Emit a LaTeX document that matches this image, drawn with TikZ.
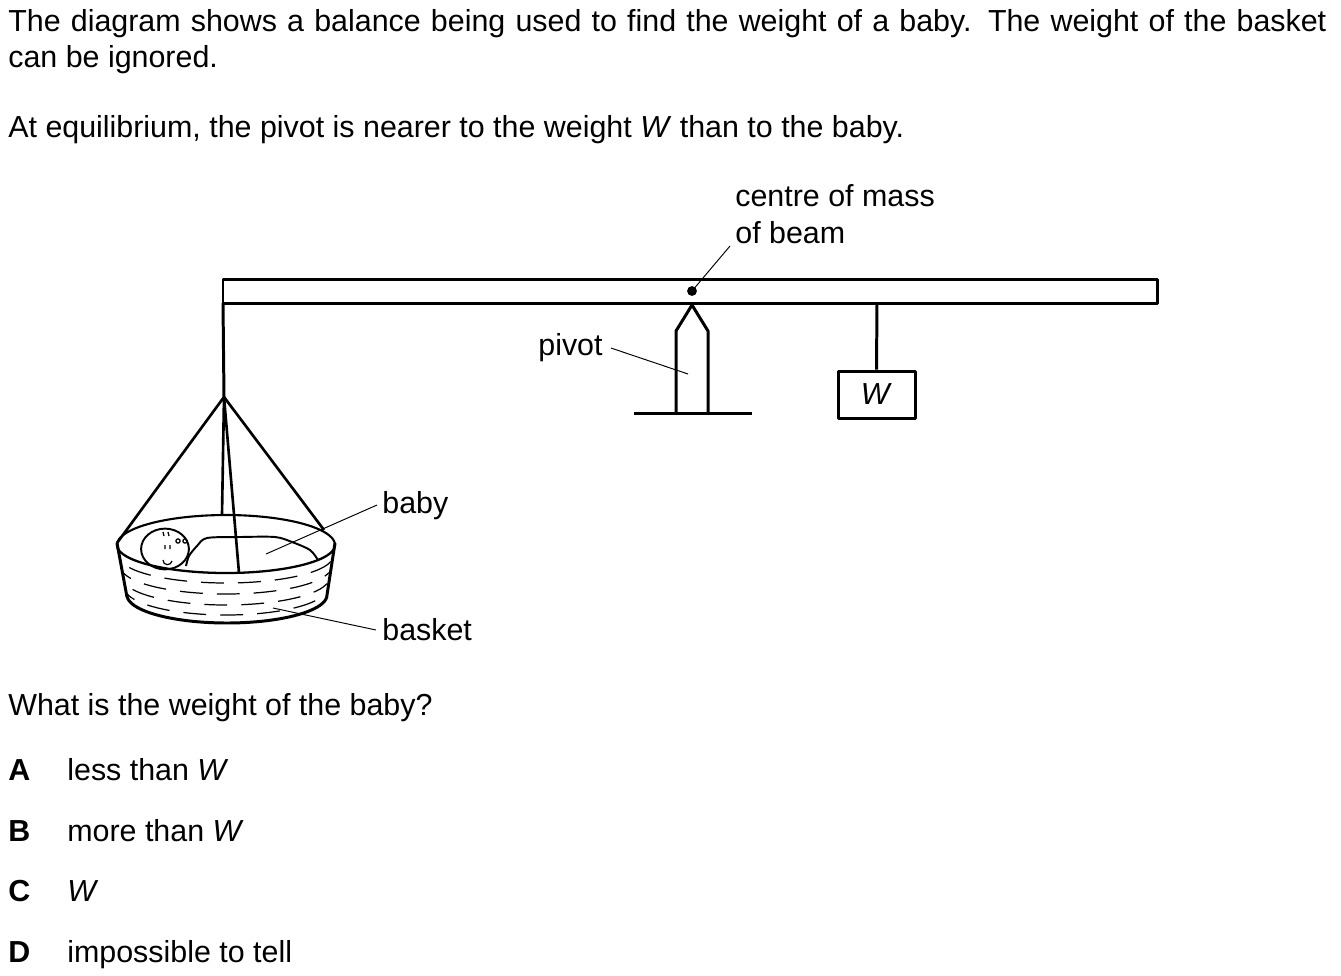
\documentclass[tikz,border=0pt]{standalone}
\usepackage{fontspec}
\setmainfont{Liberation Sans}
\usepackage{tikz}

\begin{document}
\begin{tikzpicture}[x=0.2mm, y=-0.2mm,
  txt/.style={anchor=base west, inner sep=0pt, font=\fontsize{17.3}{20}\selectfont},
  part/.style={line width=1.7pt, line join=round},
  rope/.style={line width=1.5pt},
  leader/.style={line width=0.55pt},
  weave/.style={line width=0.7pt, dash pattern=on 13 off 8}]
\useasboundingbox (0,0) rectangle (1341,975);

% Question
\node[txt] (line1) at (8,31) {\makebox[263.6mm][s]{The diagram shows a balance being used to find the weight of a baby. The weight of the basket}};
\node[txt] (line2) at (8,67) {can be ignored.};
\node[txt] (line3) at (8,137) {At equilibrium, the pivot is nearer to the weight \textit{W} than to the baby.};

% Beam
\draw[part] (223,279) rectangle (1157,303);
\coordinate (com) at (692,291);
\fill (com) circle (2.8pt);
\node[txt] (comlbl) at (735,206) {centre of mass};
\node[txt] (comlbl2) at (735,243) {of beam};
\draw[leader] ([shift={(-5,3)}]comlbl2.base west) -- (com);

% Pivot
\draw[part] (676,413) -- (676,331) -- (692,305) -- (708,331) -- (708,413);
\draw[part] (634,413) -- (752,413);
\coordinate (pivotend) at (688,374);
\node[txt] (pivotlbl) at (538,355) {pivot};
\draw[leader] ([shift={(8,-7)}]pivotlbl.base east) -- (pivotend);

% Weight W
\node[draw, part, txt, anchor=center, minimum width=15.4mm, minimum height=9.4mm] (wbox) at (876.5,394.5) {\textit{W}};
\draw[part] (877,303) -- (wbox.north);

% Hanger and ropes
\coordinate (apex) at (224,397);
\draw[part] (223,303) -- (apex);
\draw[line width=1.2pt] plot[domain=0:180, samples=50] ({226+109*cos(\x)}, {545-30*sin(\x)});
\draw[rope] (apex) -- (117,543);
\draw[rope] (apex) -- (324,530);
\draw[rope] (apex) -- (222,515);

% Baby
\draw[line width=1.1pt, fill=white] (165,549) ellipse [x radius=13.6pt, y radius=11.6pt];
\draw[line width=1.1pt, fill=white] plot[smooth] coordinates {(186,566) (189,556) (197,546) (207,538) (240,537) (275,537) (292,542) (310,550) (318,560)};
\draw[line width=0.7pt] (163,532) -- (164,536) (168,532) -- (169,536) (178,541) circle (1.2pt) (185,541) circle (1.2pt)
  (165,545) -- (165,549) (170,545) -- (170,549) (163,560) .. controls (163,566) and (171,566) .. (172,561);
\coordinate (babyend) at (266,554);

% Basket
\draw[rope] (apex) -- (239,573);
\draw[line width=1.3pt] plot[domain=0:180, samples=50] ({226+109*cos(\x)}, {545+28*sin(\x)});
\draw[part] (117,543) -- (127,597) plot[domain=180:0, samples=50] ({227+100*cos(\x)}, {595+28*sin(\x)}) -- (335,543);
\foreach \t/\ph in {0.22/0, 0.44/10, 0.66/4, 0.86/14}
  \draw[weave, dash phase=\ph] plot[domain=12:168, samples=40] ({226+(109-9*\t)*cos(\x)}, {545+50*\t+27*sin(\x)});
\coordinate (basketend) at (273,608);

% Labels
\node[txt] (babylbl) at (382,513) {baby};
\draw[leader] ([shift={(-5,-8)}]babylbl.base west) -- (babyend);
\node[txt] (basketlbl) at (382,640) {basket};
\draw[leader] ([shift={(-6,-10)}]basketlbl.base west) -- (basketend);

% Options
\node[txt] (ask) at (8,715) {What is the weight of the baby?};
\foreach \k/\y/\ans in {A/780/less than \textit{W}, B/841/more than \textit{W}, C/901/\textit{W}, D/962/impossible to tell} {
  \node[txt] (key\k) at (8,\y) {\textbf{\k}};
  \node[txt] (ans\k) at (67,\y) {\ans};
}
\end{tikzpicture}
\end{document}
